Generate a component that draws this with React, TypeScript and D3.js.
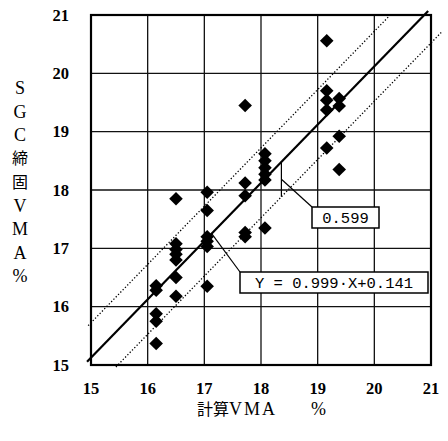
import React from 'react'
import * as d3 from 'd3'

// 計算VMA (x) と SGC締固VMA (y)
const calcVma = [
  16.15, 16.15, 16.15, 16.15, 16.15,
  16.5, 16.5, 16.5, 16.5, 16.5, 16.5, 16.5,
  17.05, 17.05, 17.05, 17.05, 17.05, 17.05,
  17.72, 17.72, 17.72, 17.72, 17.72,
  18.07, 18.07, 18.07, 18.07, 18.07, 18.07,
  19.16, 19.16, 19.16, 19.16, 19.16,
  19.38, 19.38, 19.38, 19.38,
]
const sgcVma = [
  15.37, 15.75, 15.88, 16.28, 16.36,
  16.18, 16.5, 16.8, 16.9, 16.98, 17.08, 17.85,
  16.35, 17.03, 17.12, 17.2, 17.65, 17.96,
  17.2, 17.27, 17.9, 18.12, 19.45,
  17.35, 18.17, 18.27, 18.38, 18.5, 18.62,
  18.72, 19.37, 19.54, 19.7, 20.56,
  18.35, 18.92, 19.44, 19.57,
]

const TICKS = [15, 16, 17, 18, 19, 20, 21]
const SLOPE = 0.999
const INTERCEPT = 0.141
const BAND = 0.599
const Y_TITLE = ['S', 'G', 'C', '締', '固', 'V', 'M', 'A', '%']

const W = 448
const H = 441
const SERIF = "'Liberation Serif', 'Noto Sans CJK JP', serif"
const MONO = "'Liberation Mono', 'DejaVu Sans Mono', monospace"

export default function App() {
  const x = d3.scaleLinear().domain([15, 21]).range([91, 431])
  const y = d3.scaleLinear().domain([15, 21]).range([365, 15])
  const fit = (v: number) => SLOPE * v + INTERCEPT

  const line = d3.line<number>().x(v => x(v)).y(v => y(fit(v)))
  const upper = d3.line<number>().x(v => x(v)).y(v => y(fit(v) + BAND))
  const lower = d3.line<number>().x(v => x(v)).y(v => y(fit(v) - BAND))

  const diamond = d3.symbol().type(d3.symbolSquare).size(92)()

  // bracket for the 0.599 band width
  const bx = 18.36
  const bTop = y(fit(bx))
  const bBot = y(fit(bx) - BAND)
  const bMid = (bTop + bBot) / 2

  // leader for the equation
  const ex = 17.13

  return (
    <svg width={W} height={H} style={{ position: 'absolute', left: 0, top: 0, background: '#fff' }}>
      {/* grid */}
      {TICKS.slice(1, -1).map(t => (
        <line key={'gx' + t} x1={x(t)} x2={x(t)} y1={y(15)} y2={y(21)} stroke="#111" strokeWidth={1.3} />
      ))}
      {TICKS.slice(1, -1).map(t => (
        <line key={'gy' + t} x1={x(15)} x2={x(21)} y1={y(t)} y2={y(t)} stroke="#111" strokeWidth={1.3} />
      ))}
      <rect x={x(15)} y={y(21)} width={x(21) - x(15)} height={y(15) - y(21)} fill="none" stroke="#000" strokeWidth={2.2} />

      {/* tick labels */}
      {TICKS.map(t => (
        <text key={'tx' + t} x={x(t)} y={394} textAnchor="middle" fontFamily={SERIF} fontWeight="bold" fontSize={16.5}>{t}</text>
      ))}
      {TICKS.map(t => (
        <text key={'ty' + t} x={69} y={y(t)} dy="0.35em" textAnchor="end" fontFamily={SERIF} fontWeight="bold" fontSize={16.5}>{t}</text>
      ))}

      {/* axis titles */}
      <text x={197} y={415} fontFamily={SERIF} fontSize={16}>
        計算<tspan fontSize={18} letterSpacing={2}>VMA</tspan><tspan dx={34} fontSize={18}>%</tspan>
      </text>
      {Y_TITLE.map((c, i) => (
        <text key={'yt' + i} x={20} y={88 + i * 23.5} dy="0.35em" textAnchor="middle" fontFamily={SERIF} fontSize={i === 3 || i === 4 ? 16 : 18}>{c}</text>
      ))}

      {/* regression and band */}
      <path d={upper([14.95, 20.3]) ?? ''} stroke="#000" strokeWidth={1.3} strokeDasharray="1.3 2" fill="none" />
      <path d={lower([15.44, 21.19]) ?? ''} stroke="#000" strokeWidth={1.3} strokeDasharray="1.3 2" fill="none" />
      <path d={line([14.93, 20.95]) ?? ''} stroke="#000" strokeWidth={2.2} fill="none" />

      {/* points */}
      {calcVma.map((v, i) => (
        <path key={'p' + i} d={diamond ?? ''} transform={`translate(${x(v)},${y(sgcVma[i])}) rotate(45)`} fill="#000" />
      ))}

      {/* 0.599 annotation */}
      <line x1={x(bx)} x2={x(bx)} y1={bTop} y2={bBot} stroke="#000" strokeWidth={1.2} />
      <line x1={x(bx)} y1={bMid} x2={312} y2={207} stroke="#000" strokeWidth={1.2} />
      <rect x={312} y={207} width={67} height={21} fill="#fff" stroke="#000" strokeWidth={1.5} />
      <text x={345.5} y={217.5} dy="0.35em" textAnchor="middle" fontFamily={MONO} fontSize={15.5}>{BAND.toFixed(3)}</text>

      {/* equation annotation */}
      <line x1={x(ex)} y1={y(fit(ex))} x2={240} y2={272} stroke="#000" strokeWidth={1.2} />
      <rect x={240} y={272} width={188} height={21} fill="#fff" stroke="#000" strokeWidth={1.5} />
      <text x={334} y={282.5} dy="0.35em" textAnchor="middle" fontFamily={MONO} fontSize={15.5}>
        {`Y = ${SLOPE}·X+${INTERCEPT}`}
      </text>
    </svg>
  )
}
